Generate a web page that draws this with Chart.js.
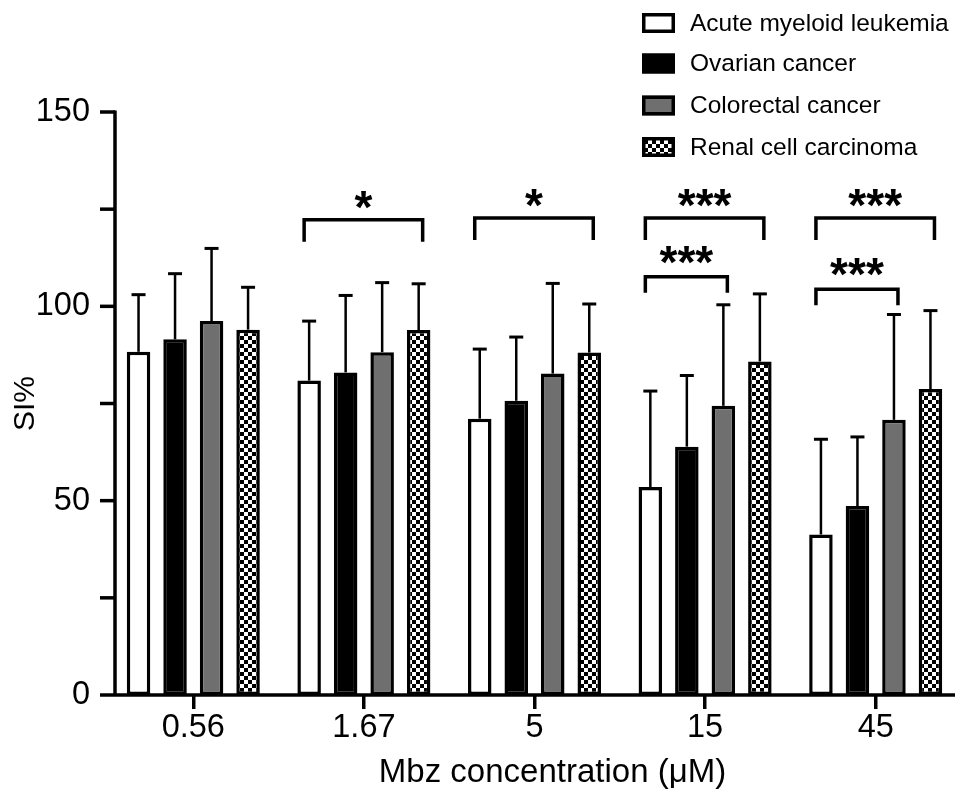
<!DOCTYPE html>
<html>
<head>
<meta charset="utf-8">
<script src="https://cdn.jsdelivr.net/npm/chart.js@4.4.1/dist/chart.umd.min.js"></script>
<style>
  html, body { margin: 0; padding: 0; background: #ffffff; }
  #wrap { width: 969px; height: 799px; position: relative; }
</style>
</head>
<body>
<div id="wrap"><canvas id="c"></canvas></div>
<script>
// ---- data ----
const categories = ['0.56', '1.67', '5', '15', '45'];
const seriesNames = ['Acute myeloid leukemia', 'Ovarian cancer', 'Colorectal cancer', 'Renal cell carcinoma'];
const amlMean = [88.3, 80.9, 71.1, 53.5, 41.3];
const amlSD = [14.7, 15.3, 17.9, 24.7, 24.5];
const ovarianMean = [91.5, 83.0, 75.7, 63.9, 48.6];
const ovarianSD = [16.9, 19.8, 16.4, 18.3, 17.8];
const colorectalMean = [96.2, 88.2, 82.7, 74.4, 70.8];
const colorectalSD = [18.7, 17.9, 23.2, 26.0, 27.1];
const renalMean = [94.0, 93.9, 88.1, 85.8, 78.7];
const renalSD = [10.9, 11.9, 12.5, 17.4, 20.2];
const yTicks = [0, 50, 100, 150];
const xTitle = 'Mbz concentration (\u03bcM)';
const yTitle = 'SI%';
// significance brackets: category index, from series, to series, level (SI%), label
const bracketCat = [1, 2, 3, 3, 4, 4];
const bracketFrom = [0, 0, 0, 0, 0, 0];
const bracketTo = [3, 3, 3, 2, 3, 2];
const bracketLevel = [122.3, 122.7, 122.7, 107.6, 122.7, 104.4];
const bracketLabel = ['*', '*', '***', '***', '***', '***'];

const FONT = "'Liberation Sans', Arial, Helvetica, sans-serif";

// checker pattern for renal cell carcinoma
function makeChecker() {
  const p = document.createElement('canvas');
  p.width = 8; p.height = 8;
  const g = p.getContext('2d');
  g.fillStyle = '#ffffff';
  g.fillRect(0, 0, 8, 8);
  g.fillStyle = '#000000';
  g.fillRect(0, 0, 4, 4);
  g.fillRect(4, 4, 4, 4);
  return document.getElementById('c').getContext('2d').createPattern(p, 'repeat');
}
const checker = makeChecker();

const means = [amlMean, ovarianMean, colorectalMean, renalMean];
const sds = [amlSD, ovarianSD, colorectalSD, renalSD];
const fills = ['#ffffff', '#000000', '#6f6f6f', checker];

const datasets = seriesNames.map((name, i) => ({
  label: name,
  data: means[i],
  sd: sds[i],
  backgroundColor: fills[i],
  borderColor: '#000000',
  borderWidth: 3.5,
  borderSkipped: false,
  categoryPercentage: 0.856,
  barPercentage: 0.644
}));

const overlay = {
  id: 'overlay',
  afterDatasetsDraw(chart) {
    const ctx = chart.ctx;
    const ys = chart.scales.y;
    const area = chart.chartArea;
    ctx.save();
    // error bars (upper only)
    chart.data.datasets.forEach((ds, di) => {
      const meta = chart.getDatasetMeta(di);
      meta.data.forEach((bar, j) => {
        const top = ys.getPixelForValue(ds.data[j] + ds.sd[j]);
        ctx.strokeStyle = '#000';
        ctx.lineWidth = 2.5;
        ctx.beginPath();
        ctx.moveTo(bar.x, bar.y);
        ctx.lineTo(bar.x, top);
        ctx.stroke();
        ctx.lineWidth = 3;
        ctx.beginPath();
        ctx.moveTo(bar.x - 7, top);
        ctx.lineTo(bar.x + 7, top);
        ctx.stroke();
      });
    });
    // axes lines
    const y0 = ys.getPixelForValue(0);
    const yTop = ys.getPixelForValue(150);
    const axisX = area.left + 7;
    ctx.strokeStyle = '#000';
    ctx.lineWidth = 3.5;
    ctx.lineCap = 'butt';
    ctx.beginPath();
    ctx.moveTo(axisX, yTop - 1.5);
    ctx.lineTo(axisX, y0);
    ctx.stroke();
    ctx.beginPath();
    ctx.moveTo(area.left - 8, y0);
    ctx.lineTo(area.right - 6, y0);
    ctx.stroke();
    // y tick marks
    for (let v = 25; v <= 150; v += 25) {
      const py = ys.getPixelForValue(v);
      ctx.beginPath();
      ctx.moveTo(axisX - 15, py);
      ctx.lineTo(axisX, py);
      ctx.stroke();
    }
    // significance brackets
    for (let k = 0; k < bracketCat.length; k++) {
      const xa = chart.getDatasetMeta(bracketFrom[k]).data[bracketCat[k]].x - 5;
      const xb = chart.getDatasetMeta(bracketTo[k]).data[bracketCat[k]].x + 4;
      const py = ys.getPixelForValue(bracketLevel[k]);
      const leg = bracketTo[k] === 3 ? 22 : 16;
      ctx.lineWidth = 3.5;
      ctx.lineJoin = 'miter';
      ctx.beginPath();
      ctx.moveTo(xa, py + leg);
      ctx.lineTo(xa, py);
      ctx.lineTo(xb, py);
      ctx.lineTo(xb, py + leg);
      ctx.stroke();
      ctx.font = 'bold 46px ' + FONT;
      ctx.fillStyle = '#000';
      ctx.textAlign = 'center';
      ctx.textBaseline = 'alphabetic';
      const m = ctx.measureText(bracketLabel[k]);
      const asc = m.actualBoundingBoxAscent, desc = m.actualBoundingBoxDescent;
      const cy = py - (bracketTo[k] === 3 ? 20 : 22);
      ctx.fillText(bracketLabel[k], (xa + xb) / 2, cy + (asc - desc) / 2);
    }
    // x axis title (set slightly right of centre, as in the original)
    ctx.font = '33px ' + FONT;
    ctx.fillStyle = '#000';
    ctx.textAlign = 'center';
    ctx.textBaseline = 'alphabetic';
    ctx.fillText(xTitle, (area.left + area.right) / 2 + 18, y0 + 87);
    // legend
    const lx = area.right - 319;
    const rowY = [23, 63.5, 105.5, 147];
    ctx.font = '24.5px ' + FONT;
    ctx.textAlign = 'left';
    ctx.textBaseline = 'middle';
    chart.data.datasets.forEach((ds, i) => {
      const cy = rowY[i];
      ctx.fillStyle = ds.backgroundColor;
      ctx.fillRect(lx, cy - 10, 33, 20);
      ctx.lineWidth = 3.5;
      ctx.strokeStyle = '#000';
      ctx.strokeRect(lx + 1.75, cy - 8.25, 29.5, 16.5);
      ctx.fillStyle = '#000';
      ctx.fillText(ds.label, lx + 48, cy + 1);
    });
    ctx.restore();
  }
};

new Chart(document.getElementById('c'), {
  type: 'bar',
  data: { labels: categories, datasets },
  options: {
    responsive: true,
    maintainAspectRatio: false,
    animation: false,
    devicePixelRatio: 1,
    layout: { padding: { top: 112, right: 8, left: 0, bottom: 0 } },
    plugins: { legend: { display: false }, tooltip: { enabled: false } },
    scales: {
      x: {
        grid: { display: true, drawOnChartArea: false, drawTicks: true, tickLength: 14, lineWidth: 3.5, color: '#000', offset: false },
        border: { display: false },
        ticks: { color: '#000', font: { family: FONT, size: 32.5 }, padding: 0, maxRotation: 0 },
        title: { display: false },
        afterFit(s) { s.height = 104; }
      },
      y: {
        min: 0, max: 150,
        afterBuildTicks(s) { s.ticks = yTicks.map(v => ({ value: v })); },
        grid: { display: false, drawTicks: false },
        border: { display: false },
        ticks: { color: '#000', font: { family: FONT, size: 32.5 }, padding: 18 },
        title: { display: true, text: yTitle, color: '#000', font: { family: FONT, size: 30 }, padding: { top: 8, bottom: 0 } },
        afterFit(s) { s.width = 108; }
      }
    }
  },
  plugins: [overlay]
});
</script>
</body>
</html>
